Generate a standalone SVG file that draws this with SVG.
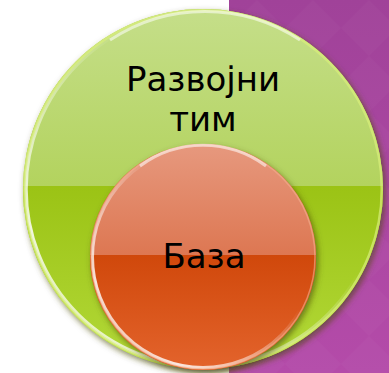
<svg xmlns="http://www.w3.org/2000/svg" width="389" height="373" viewBox="0 0 389 373">
<defs>
<style>
.lbl{font-family:"DejaVu Sans","Noto Sans",sans-serif;font-size:34px;fill:#000;text-anchor:middle}
</style>
<linearGradient id="purp" x1="0" y1="0" x2="0" y2="1">
<stop offset="0" stop-color="#A04299"/>
<stop offset="1" stop-color="#B44BA9"/>
</linearGradient>
<pattern id="diam" width="56" height="56" patternUnits="userSpaceOnUse" patternTransform="translate(229,0)">
<path d="M28 0 L56 28 L28 56 L0 28 Z" fill="#ffffff" fill-opacity="0.02"/>
</pattern>
<linearGradient id="gTop" x1="0" y1="0" x2="0" y2="1">
<stop offset="0" stop-color="#C6DF8C"/>
<stop offset="1" stop-color="#B3D35E"/>
</linearGradient>
<linearGradient id="gBot" x1="0" y1="0" x2="0" y2="1">
<stop offset="0" stop-color="#9BC315"/>
<stop offset="1" stop-color="#B4DA3A"/>
</linearGradient>
<linearGradient id="rTop" x1="0" y1="0" x2="0" y2="1">
<stop offset="0" stop-color="#E79A80"/>
<stop offset="1" stop-color="#DD7752"/>
</linearGradient>
<linearGradient id="rBot" x1="0" y1="0" x2="0" y2="1">
<stop offset="0" stop-color="#D0480B"/>
<stop offset="1" stop-color="#E4652E"/>
</linearGradient>
<linearGradient id="rimL" x1="1" y1="0" x2="0" y2="1">
<stop offset="0.4" stop-color="#ffffff" stop-opacity="0"/>
<stop offset="0.8" stop-color="#ffffff" stop-opacity="0.85"/>
<stop offset="1" stop-color="#ffffff" stop-opacity="0.3"/>
</linearGradient>
<clipPath id="gClip"><circle cx="203" cy="189" r="180"/></clipPath>
<clipPath id="rClip"><circle cx="203" cy="257" r="113"/></clipPath>
<filter id="shadow" x="-20%" y="-20%" width="140%" height="140%">
<feGaussianBlur in="SourceAlpha" stdDeviation="3"/>
<feOffset dx="2" dy="3" result="b"/>
<feFlood flood-color="#4A4A10" flood-opacity="0.7"/>
<feComposite in2="b" operator="in"/>
<feMerge><feMergeNode/><feMergeNode in="SourceGraphic"/></feMerge>
</filter>
</defs>
<rect x="0" y="0" width="389" height="373" fill="#ffffff"/>
<rect x="229" y="0" width="160" height="373" fill="url(#purp)"/>
<rect x="229" y="0" width="160" height="373" fill="url(#diam)"/>
<g id="node-team">
<g filter="url(#shadow)">
<circle cx="203" cy="189" r="180" fill="#A8CC2A"/>
</g>
<g clip-path="url(#gClip)">
<rect x="20" y="0" width="370" height="186" fill="url(#gTop)"/>
<rect x="20" y="186" width="370" height="190" fill="url(#gBot)"/>
</g>
<circle cx="203" cy="189" r="177" fill="none" stroke="url(#rimL)" stroke-width="3.5"/>
<circle cx="203" cy="189" r="178.8" fill="none" stroke="#D8EE7A" stroke-width="2.5" stroke-opacity="0.7"/>
<path d="M110 40 A172 172 0 0 1 300 40" fill="none" stroke="#ffffff" stroke-opacity="0.55" stroke-width="3"/>
<text class="lbl"><tspan x="203" y="91">Развојни</tspan><tspan x="203" y="131">тим</tspan></text>
</g>
<g id="node-base">
<g filter="url(#shadow)">
<circle cx="203" cy="257" r="113" fill="#D85A20"/>
</g>
<g clip-path="url(#rClip)">
<rect x="85" y="140" width="240" height="115" fill="url(#rTop)"/>
<rect x="85" y="255" width="240" height="120" fill="url(#rBot)"/>
</g>
<circle cx="203" cy="257" r="110.5" fill="none" stroke="url(#rimL)" stroke-width="3"/>
<circle cx="203" cy="257" r="112" fill="none" stroke="#F3B090" stroke-width="1.5" stroke-opacity="0.6"/>
<path d="M140 166 A106 106 0 0 1 266 166" fill="none" stroke="#ffffff" stroke-opacity="0.55" stroke-width="3"/>
<text class="lbl" x="204" y="268">База</text>
</g>
<g id="connectors"/>
</svg>
